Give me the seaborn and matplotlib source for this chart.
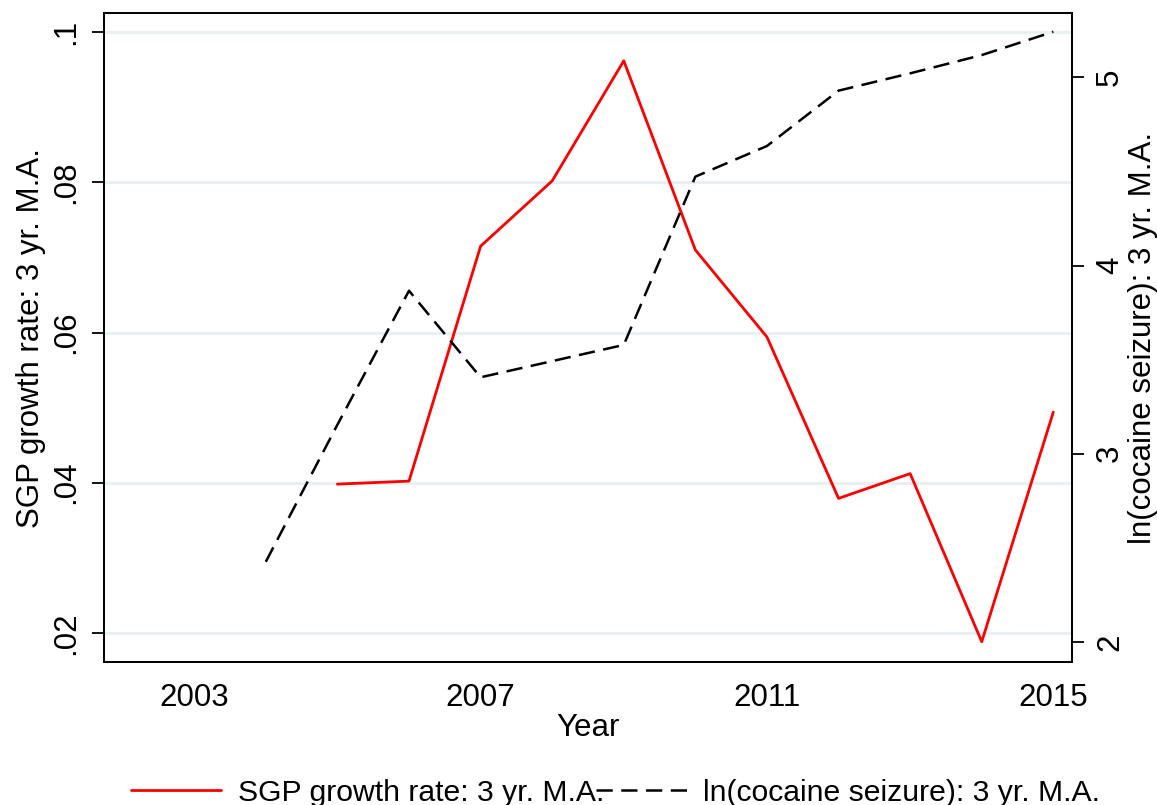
import numpy as np
import pandas as pd
import matplotlib
matplotlib.use("Agg")
import matplotlib.pyplot as plt
import seaborn as sns

# ---- data ----
sgp_years = [2005, 2006, 2007, 2008, 2009, 2010, 2011, 2012, 2013, 2014, 2015]
sgp_values = [0.0398, 0.0402, 0.0715, 0.0802, 0.0962, 0.0710, 0.0594, 0.0379, 0.0412, 0.0188, 0.0494]
coc_years = [2004, 2005, 2006, 2007, 2008, 2009, 2010, 2011, 2012, 2013, 2014, 2015]
coc_values = [2.426, 3.154, 3.866, 3.406, 3.492, 3.578, 4.472, 4.635, 4.929, 5.021, 5.118, 5.242]
x_ticks = [2003, 2007, 2011, 2015]
left_ticks = [0.02, 0.04, 0.06, 0.08, 0.1]
left_tick_labels = [".02", ".04", ".06", ".08", ".1"]
right_ticks = [2, 3, 4, 5]
right_tick_labels = ["2", "3", "4", "5"]
sgp_label = "SGP growth rate: 3 yr. M.A."
coc_label = "ln(cocaine seizure): 3 yr. M.A."
x_label = "Year"

sns.set_style("white")
plt.rcParams["font.family"] = ["Liberation Sans", "DejaVu Sans"]
plt.rcParams["text.color"] = "black"
plt.rcParams["axes.labelcolor"] = "black"
FS = 22.5
LFS = 21.7

fig = plt.figure(figsize=(11.57, 8.05), dpi=100)
ax = fig.add_axes([104 / 1157, 1 - 661.7 / 805, (1072.3 - 104) / 1157, (661.7 - 13.3) / 805])
ax2 = ax.twinx()

sgp_df = pd.DataFrame({"year": sgp_years, "value": sgp_values})
coc_df = pd.DataFrame({"year": coc_years, "value": coc_values})

sns.lineplot(data=sgp_df, x="year", y="value", ax=ax, color="#ff0000", lw=2.0, label=sgp_label, legend=False)
sns.lineplot(data=coc_df, x="year", y="value", ax=ax2, color="black", lw=1.8, label=coc_label, legend=False)
ax2.lines[0].set_linestyle((0, (6.5, 3.4)))

ax.set_xlim(2001.74, 2015.265)
ax.set_ylim(0.01614, 0.10253)
ax2.set_ylim(1.895, 5.340)

# gridlines
for t in left_ticks:
    ax.axhline(t, color="#e9f0f2", lw=2.2, zorder=0)

ax.set_xticks(x_ticks)
ax.set_xticklabels([str(v) for v in x_ticks], fontsize=FS)
ax.set_yticks(left_ticks)
ax.set_yticklabels(left_tick_labels, fontsize=FS, rotation=90, va="center")
ax2.set_yticks(right_ticks)
ax2.set_yticklabels(right_tick_labels, fontsize=FS, rotation=90, va="center")

for a in (ax, ax2):
    for s in a.spines.values():
        s.set_linewidth(1.3)
        s.set_color("black")
ax.tick_params(axis="x", direction="out", length=8.5, width=1.3, pad=7, colors="black")
ax.tick_params(axis="y", direction="out", length=8.5, width=1.3, pad=8, left=True, colors="black")
ax2.tick_params(axis="y", direction="out", length=8.5, width=1.3, pad=8, right=True, colors="black")

ax.set_xlabel(x_label, fontsize=FS, labelpad=0)
ax.set_ylabel(sgp_label, fontsize=FS, labelpad=4)
ax2.set_ylabel(coc_label, fontsize=FS, labelpad=2)

h1 = ax.lines[0]
h2 = ax2.lines[0]
fig.legend([h1, h2], [sgp_label, coc_label], loc="lower center", bbox_to_anchor=(0.532, -0.036),
           ncol=2, frameon=False, fontsize=LFS, handlelength=3.0, handletextpad=0.55,
           columnspacing=-0.27, labelcolor="black")

fig.savefig("out.png", dpi=100)
